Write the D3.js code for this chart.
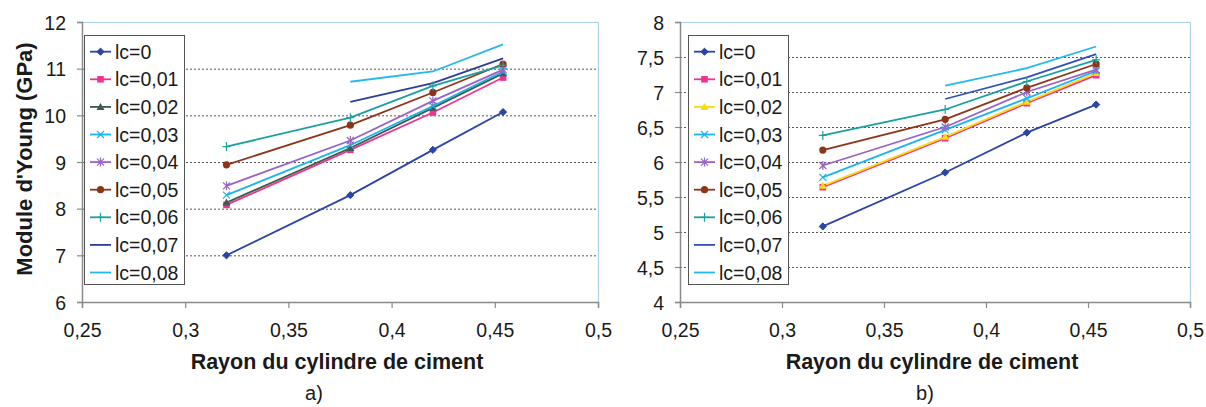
<!DOCTYPE html>
<html><head><meta charset="utf-8">
<script src="https://cdn.jsdelivr.net/npm/d3@7"></script>
<style>
html,body{margin:0;padding:0;background:#fff;}
svg text{font-family:"Liberation Sans",Arial,sans-serif;fill:#1a1a1a;}
</style></head>
<body><svg id="c" width="1206" height="407"></svg>
<script>
// ---- data ----
const seriesNames = ["lc=0","lc=0,01","lc=0,02","lc=0,03","lc=0,04","lc=0,05","lc=0,06","lc=0,07","lc=0,08"];
const radii = [0.32, 0.38, 0.42, 0.454];
// chart a)
const youngA_lc0  = [7.00, 8.29, 9.26, 10.07];
const youngA_lc01 = [8.08, 9.26, 10.06, 10.81];
const youngA_lc02 = [8.13, 9.30, 10.16, 10.90];
const youngA_lc03 = [8.29, 9.36, 10.20, 10.94];
const youngA_lc04 = [8.49, 9.46, 10.31, 10.98];
const youngA_lc05 = [8.94, 9.79, 10.49, 11.10];
const youngA_lc06 = [9.33, 9.95, 10.63, 11.07];
const youngA_lc07 = [null, 10.29, 10.69, 11.22];
const youngA_lc08 = [null, 10.72, 10.94, 11.52];
// chart b)
const youngB_lc0  = [5.08, 5.85, 6.42, 6.82];
const youngB_lc01 = [5.64, 6.34, 6.84, 7.24];
const youngB_lc02 = [5.66, 6.36, 6.86, 7.27];
const youngB_lc03 = [5.78, 6.46, 6.91, 7.30];
const youngB_lc04 = [5.95, 6.50, 7.00, 7.32];
const youngB_lc05 = [6.17, 6.61, 7.06, 7.40];
const youngB_lc06 = [6.38, 6.75, 7.15, 7.46];
const youngB_lc07 = [null, 6.90, 7.21, 7.54];
const youngB_lc08 = [null, 7.09, 7.34, 7.65];
const xTicks = [0.25, 0.30, 0.35, 0.40, 0.45, 0.50];
const yTicksA = [6, 7, 8, 9, 10, 11, 12];
const yTicksB = [4, 4.5, 5, 5.5, 6, 6.5, 7, 7.5, 8];
const xTitle = "Rayon du cylindre de ciment";
const yTitle = "Module d'Young (GPa)";

// ---- styles ----
const markers = ["diamond","square","triangle","x","star","circle","plus",null,null];
const colorsA = ["#2a44a8","#f0338f","#3d5a4c","#18b4ee","#9a62c4","#8e3418","#1aa0a0","#2d3d9c","#22b8f0"];
const colorsB = ["#2a44a8","#f0338f","#f7dc10","#18b4ee","#9a62c4","#8e3418","#1aa0a0","#3050b8","#22b8f0"];

const svg = d3.select("#c");
const fmt = v => String(v).replace(".", ",");

function drawMarker(g, type, x, y, col){
  if(!type) return;
  const s = 3.6;
  if(type==="diamond") g.append("path").attr("d",`M${x},${y-s}L${x+s},${y}L${x},${y+s}L${x-s},${y}Z`).attr("fill",col).attr("stroke",col);
  else if(type==="square") g.append("rect").attr("x",x-3.3).attr("y",y-3.3).attr("width",6.6).attr("height",6.6).attr("fill",col);
  else if(type==="triangle") g.append("path").attr("d",`M${x},${y-4}L${x+4},${y+3}L${x-4},${y+3}Z`).attr("fill",col);
  else if(type==="circle") g.append("circle").attr("cx",x).attr("cy",y).attr("r",3.6).attr("fill",col);
  else if(type==="x") g.append("path").attr("d",`M${x-3.5},${y-3.5}L${x+3.5},${y+3.5}M${x-3.5},${y+3.5}L${x+3.5},${y-3.5}`).attr("stroke",col).attr("stroke-width",1.2);
  else if(type==="star") g.append("path").attr("d",`M${x-3.5},${y-3.5}L${x+3.5},${y+3.5}M${x-3.5},${y+3.5}L${x+3.5},${y-3.5}M${x},${y-4.5}L${x},${y+4.5}`).attr("stroke",col).attr("stroke-width",1.2);
  else if(type==="plus") g.append("path").attr("d",`M${x-4},${y}L${x+4},${y}M${x},${y-4.5}L${x},${y+4.5}`).attr("stroke",col).attr("stroke-width",1.2);
}

function chart(opt){
  const g = svg.append("g");
  const x = d3.scaleLinear().domain([0.25,0.5]).range([opt.x0, opt.x1]);
  const y = d3.scaleLinear().domain(opt.yDomain).range([302, 22]);
  // gridlines
  g.append("g").selectAll("line").data(opt.yTicks.slice(1,-1)).join("line")
    .attr("x1",opt.x0).attr("x2",opt.x1).attr("y1",d=>y(d)+0.5).attr("y2",d=>y(d)+0.5)
    .attr("stroke","#555").attr("stroke-width",1).attr("stroke-dasharray","2,2");
  // frame top/right
  g.append("path").attr("d",`M${opt.x0},${y(opt.yDomain[1])+0.5}H${opt.x1+0.5}V302`)
    .attr("fill","none").attr("stroke","#a9d2ea").attr("stroke-width",1.2);
  // axes
  const ax = g.append("g").attr("transform",`translate(0,${y(opt.yDomain[0])})`)
    .call(d3.axisBottom(x).tickValues(xTicks).tickFormat(fmt).tickSize(6).tickPadding(15));
  const ay = g.append("g").attr("transform",`translate(${opt.x0},0)`)
    .call(d3.axisLeft(y).tickValues(opt.yTicks).tickFormat(fmt).tickSize(5).tickPadding(11));
  [ax,ay].forEach(a=>{
    a.select(".domain").attr("stroke","#8a8a8a").attr("stroke-width",1.5);
    a.selectAll(".tick line").attr("stroke","#8a8a8a").attr("stroke-width",1.2);
    a.selectAll("text").style("font-size","19.5px").attr("fill","#1a1a1a");
  });
  ay.selectAll("text").attr("dy","0.36em");
  // series
  const line = d3.line().defined(d=>d[1]!=null).x(d=>x(d[0])).y(d=>y(d[1]));
  opt.series.forEach((vals,i)=>{
    const pts = radii.map((r,j)=>[r, vals[j]]);
    g.append("path").datum(pts).attr("d",line).attr("fill","none")
      .attr("stroke",opt.colors[i]).attr("stroke-width",1.8);
  });
  opt.series.forEach((vals,i)=>{
    radii.forEach((r,j)=>{ if(vals[j]!=null) drawMarker(g, markers[i], x(r), y(vals[j]), opt.colors[i]); });
  });
  // legend
  const lg = g.append("g");
  lg.append("rect").attr("x",opt.lx+0.5).attr("y",35.5).attr("width",100).attr("height",249)
    .attr("fill","#fff").attr("stroke","#555").attr("stroke-width",1);
  seriesNames.forEach((n,i)=>{
    const cy = 51.7 + i*27.6;
    lg.append("line").attr("x1",opt.lx+6).attr("x2",opt.lx+27).attr("y1",cy).attr("y2",cy)
      .attr("stroke",opt.colors[i]).attr("stroke-width",1.8);
    drawMarker(lg, markers[i], opt.lx+16.5, cy, opt.colors[i]);
    lg.append("text").attr("x",opt.lx+31).attr("y",cy).attr("dy","0.36em")
      .style("font-size","19.5px").text(n);
  });
  // titles
  g.append("text").attr("x",(opt.x0+opt.x1)/2 - 3).attr("y",369)
    .attr("text-anchor","middle").style("font-size","21.5px").style("font-weight","bold").text(xTitle);
  g.append("text").attr("x",opt.labelX).attr("y",400).attr("text-anchor","middle")
    .style("font-size","20px").text(opt.label);
  if(opt.yTitle){
    g.append("text").attr("transform","translate(32,159) rotate(-90)")
      .attr("text-anchor","middle").style("font-size","22px").style("font-weight","bold").text(yTitle);
  }
}

chart({x0:82, x1:598, yDomain:[6,12], yTicks:yTicksA, colors:colorsA, lx:84,
  series:[youngA_lc0,youngA_lc01,youngA_lc02,youngA_lc03,youngA_lc04,youngA_lc05,youngA_lc06,youngA_lc07,youngA_lc08],
  label:"a)", labelX:314, yTitle:true});
chart({x0:680, x1:1190, yDomain:[4,8], yTicks:yTicksB, colors:colorsB, lx:688,
  series:[youngB_lc0,youngB_lc01,youngB_lc02,youngB_lc03,youngB_lc04,youngB_lc05,youngB_lc06,youngB_lc07,youngB_lc08],
  label:"b)", labelX:925, yTitle:false});
</script></body></html>
